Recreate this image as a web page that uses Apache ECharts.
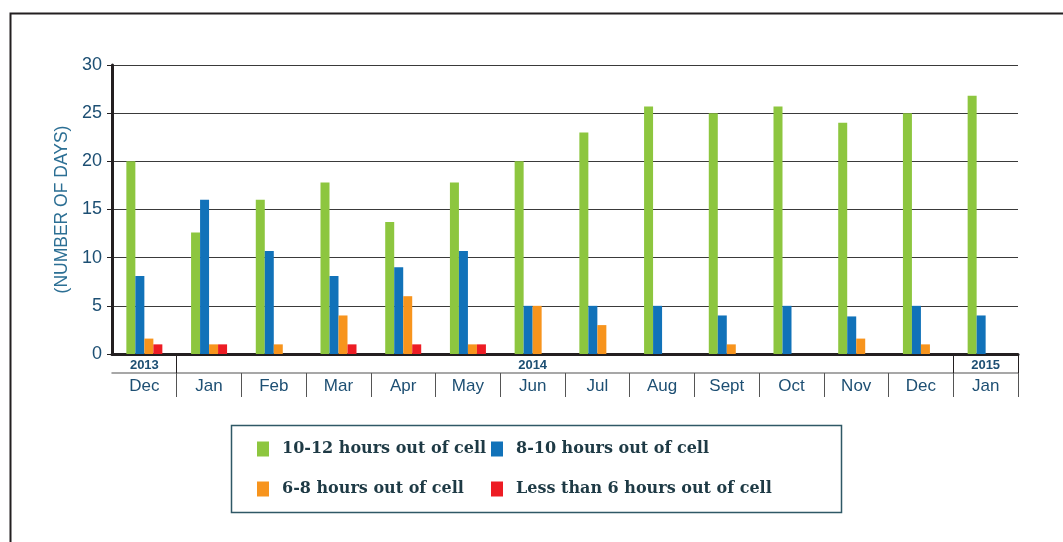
<!DOCTYPE html>
<html>
<head>
<meta charset="utf-8">
<script src="https://cdn.jsdelivr.net/npm/echarts@6/dist/echarts.min.js"></script>
<style>
  html, body { margin: 0; padding: 0; background: #fff; }
  #chart { width: 1063px; height: 542px; }
</style>
</head>
<body>
<div id="chart"></div>
<script>
// months shown along the bottom, and the year row above them
const months = ['Dec', 'Jan', 'Feb', 'Mar', 'Apr', 'May', 'Jun', 'Jul', 'Aug', 'Sept', 'Oct', 'Nov', 'Dec', 'Jan']
const years = ['2013', '', '', '', '', '', '2014', '', '', '', '', '', '', '2015']

const seriesNames = ['10-12 hours out of cell', '8-10 hours out of cell', '6-8 hours out of cell', 'Less than 6 hours out of cell']
const hours10to12 = [20, 12.6, 16, 17.8, 13.7, 17.8, 20, 23, 25.7, 25, 25.7, 24, 25, 26.8]
const hours8to10 = [8.1, 16, 10.7, 8.1, 9, 10.7, 5, 5, 5, 4, 5, 3.9, 5, 4]
const hours6to8 = [1.6, 1, 1, 4, 6, 1, 5, 3, null, 1, null, 1.6, 1, null]
const under6 = [1, 1, null, 1, 1, 1, null, null, null, null, null, null, null, null]

const colors = ['#8dc63f', '#1172b9', '#f7941d', '#ed1c24']
const labelColor = '#1d4f73'
const darkLine = '#231f20'

const chart = echarts.init(document.getElementById('chart'))

function bar (name, data, i) {
  return {
    name: name,
    type: 'bar',
    xAxisIndex: 0,
    data: data,
    barWidth: 9,
    barGap: '0%',
    itemStyle: { color: colors[i] },
    animation: false
  }
}

const legendText = {
  fontFamily: 'DejaVu Serif',
  fontWeight: 'bold',
  fontSize: 16,
  color: '#1e3a45',
  padding: [0, 0, 0, 8]
}

function legendCol (left, names) {
  return {
    orient: 'vertical',
    left: left,
    top: 441,
    padding: 0,
    itemWidth: 12,
    itemHeight: 15,
    itemGap: 24,
    icon: 'rect',
    data: names,
    textStyle: legendText
  }
}

const option = {
  backgroundColor: '#fff',
  grid: { left: 112, right: 45, top: 65, bottom: 188 },
  legend: [
    legendCol(257, [seriesNames[0], seriesNames[2]]),
    legendCol(491, [seriesNames[1], seriesNames[3]])
  ],
  graphic: [
    {
      type: 'rect',
      shape: { x: 10.5, y: 13.5, width: 1100, height: 600 },
      style: { fill: 'none', stroke: darkLine, lineWidth: 2 },
      silent: true
    },
    {
      type: 'rect',
      shape: { x: 231.5, y: 425.5, width: 610, height: 87 },
      style: { fill: 'none', stroke: '#2f5866', lineWidth: 1.5 },
      silent: true
    }
  ],
  xAxis: [
    {
      // year row
      type: 'category',
      data: years,
      position: 'bottom',
      axisLine: { show: true, lineStyle: { color: darkLine, width: 3 } },
      axisTick: {
        show: true,
        interval: (i) => i === 1 || i === 13,
        length: 43,
        lineStyle: { color: darkLine, width: 1 }
      },
      axisLabel: {
        interval: 0,
        color: labelColor,
        fontFamily: 'Liberation Sans',
        fontWeight: 'bold',
        fontSize: 13,
        margin: 5
      },
      splitLine: { show: false }
    },
    {
      // month row
      type: 'category',
      data: months,
      position: 'bottom',
      offset: 19,
      axisLine: { show: true, lineStyle: { color: '#8a8a8a', width: 1.5 } },
      axisTick: {
        show: true,
        interval: (i) => i > 0,
        length: 24,
        lineStyle: { color: '#555', width: 1 }
      },
      axisLabel: {
        interval: 0,
        color: labelColor,
        fontFamily: 'Liberation Sans',
        fontSize: 17,
        margin: 5
      },
      splitLine: { show: false }
    }
  ],
  yAxis: {
    type: 'value',
    min: 0,
    max: 30,
    interval: 5,
    name: '(NUMBER OF DAYS)',
    nameLocation: 'middle',
    nameRotate: 90,
    nameGap: 41,
    nameTextStyle: { color: '#2c6f94', fontFamily: 'Liberation Sans', fontSize: 17.5 },
    axisLine: { show: true, lineStyle: { color: darkLine, width: 3 } },
    axisTick: { show: true, length: 5, lineStyle: { color: darkLine } },
    axisLabel: { color: labelColor, fontFamily: 'Liberation Sans', fontSize: 18, margin: 10 },
    splitLine: { lineStyle: { color: '#3a3a3a', width: 1 } }
  },
  series: [
    bar(seriesNames[0], hours10to12, 0),
    bar(seriesNames[1], hours8to10, 1),
    bar(seriesNames[2], hours6to8, 2),
    bar(seriesNames[3], under6, 3)
  ]
}

chart.setOption(option)
</script>
</body>
</html>
